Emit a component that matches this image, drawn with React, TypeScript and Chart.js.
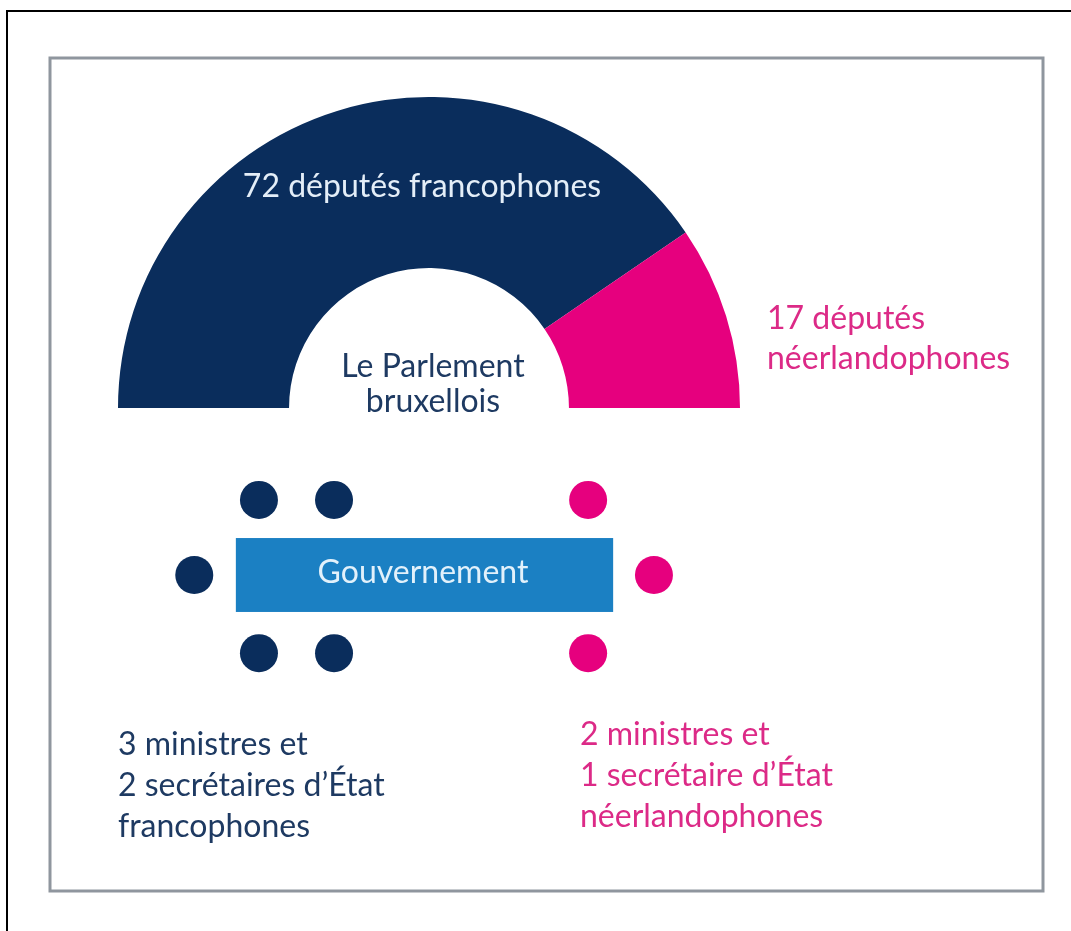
import React, { useEffect, useRef } from "react";
import { Chart, registerables } from "chart.js";

Chart.register(...registerables);

// ---- Data ----
const parliamentGroups = ["Députés francophones", "Députés néerlandophones"];
const parliamentSeats = [72, 17];
const groupColors = ["#0a2d5c", "#e6007e"];

// Government seats around the table (units = half a seat row spacing, table centred at 0,0)
const frenchSeatX = [-4.3, -2.35, -5.98, -4.3, -2.35];
const frenchSeatY = [1.95, 1.95, 0, -2.03, -2.03];
const dutchSeatX = [4.25, 5.96, 4.25];
const dutchSeatY = [1.95, 0, -2.03];
const tableX = [-4.9, 4.9];
const tableY = [-0.96, 0.96];

const parliamentTitle = ["72 députés francophones"];
const dutchMpsLabel = ["17 députés", "néerlandophones"];
const parliamentLabel = ["Le Parlement", "bruxellois"];
const governmentLabel = ["Gouvernement"];
const frenchGovLabel = ["3 ministres et", "2 secrétaires d’État", "francophones"];
const dutchGovLabel = ["2 ministres et", "1 secrétaire d’État", "néerlandophones"];

// ---- Layout ----
const W = 1071;
const H = 931;
const UNIT = 38.5;
const ORIGIN_X = 424.5;
const ORIGIN_Y = 575;
const FONT = "400 32px Lato, 'Open Sans', sans-serif";
const NAVY_TEXT = "#1e3a62";
const PINK_TEXT = "#dc2a87";

export default function App() {
  const donutRef = useRef<HTMLCanvasElement | null>(null);
  const overlayRef = useRef<HTMLCanvasElement | null>(null);

  useEffect(() => {
    const donut = new Chart(donutRef.current!, {
      type: "doughnut",
      data: {
        labels: parliamentGroups,
        datasets: [
          {
            data: parliamentSeats,
            backgroundColor: groupColors,
            borderWidth: 0,
          },
        ],
      },
      options: {
        animation: false,
        responsive: false,
        devicePixelRatio: 1,
        circumference: 180,
        rotation: -90,
        cutout: "45%",
        layout: { padding: 0 },
        plugins: { legend: { display: false }, tooltip: { enabled: false } },
      },
    });

    const decorations = {
      id: "decorations",
      beforeDatasetsDraw(chart: any) {
        const ctx = chart.ctx;
        const xs = chart.scales.x;
        const ys = chart.scales.y;
        ctx.save();
        // frame lines
        ctx.fillStyle = "#000";
        ctx.fillRect(6, 10, W - 6, 2);
        ctx.fillRect(6, 10, 2, H - 10);
        ctx.strokeStyle = "#8f969e";
        ctx.lineWidth = 3;
        ctx.strokeRect(50, 58, 993, 833);
        // government table
        const x0 = xs.getPixelForValue(tableX[0]);
        const x1 = xs.getPixelForValue(tableX[1]);
        const y0 = ys.getPixelForValue(tableY[1]);
        const y1 = ys.getPixelForValue(tableY[0]);
        ctx.fillStyle = "#1b80c3";
        ctx.fillRect(x0, y0, x1 - x0, y1 - y0);
        ctx.restore();
      },
      afterDatasetsDraw(chart: any) {
        const ctx = chart.ctx;
        ctx.save();
        ctx.font = FONT;
        ctx.textBaseline = "alphabetic";
        const draw = (lines: string[], x: number, y: number, step: number, color: string, align: CanvasTextAlign) => {
          ctx.fillStyle = color;
          ctx.textAlign = align;
          lines.forEach((l, i) => ctx.fillText(l, x, y + i * step));
        };
        draw(parliamentTitle, 422, 197, 0, "#e4eef8", "center");
        draw(parliamentLabel, 433, 377, 35, NAVY_TEXT, "center");
        draw(dutchMpsLabel, 767, 329, 40, PINK_TEXT, "left");
        draw(governmentLabel, 423, 583, 0, "#e2f1fb", "center");
        draw(frenchGovLabel, 118, 755, 41, NAVY_TEXT, "left");
        draw(dutchGovLabel, 580, 745, 41, PINK_TEXT, "left");
        ctx.restore();
      },
    };

    const overlay = new Chart(overlayRef.current!, {
      type: "scatter",
      data: {
        datasets: [
          {
            label: "Francophones",
            data: frenchSeatX.map((x, i) => ({ x, y: frenchSeatY[i] })),
            backgroundColor: groupColors[0],
            borderWidth: 0,
            pointRadius: 19,
          },
          {
            label: "Néerlandophones",
            data: dutchSeatX.map((x, i) => ({ x, y: dutchSeatY[i] })),
            backgroundColor: groupColors[1],
            borderWidth: 0,
            pointRadius: 19,
          },
        ],
      },
      options: {
        animation: false,
        responsive: false,
        devicePixelRatio: 1,
        layout: { padding: 0, autoPadding: false },
        scales: {
          x: { type: "linear", display: false, min: -ORIGIN_X / UNIT, max: (W - ORIGIN_X) / UNIT },
          y: { type: "linear", display: false, min: -(H - ORIGIN_Y) / UNIT, max: ORIGIN_Y / UNIT },
        },
        plugins: { legend: { display: false }, tooltip: { enabled: false } },
      },
      plugins: [decorations],
    });

    return () => {
      donut.destroy();
      overlay.destroy();
    };
  }, []);

  return (
    <div style={{ position: "absolute", left: 0, top: 0, width: W, height: H, background: "#fff", overflow: "hidden" }}>
      <canvas
        ref={donutRef}
        width={622}
        height={311}
        style={{ position: "absolute", left: 118, top: 97, width: 622, height: 311 }}
      />
      <canvas
        ref={overlayRef}
        width={W}
        height={H}
        style={{ position: "absolute", left: 0, top: 0, width: W, height: H, pointerEvents: "none" }}
      />
    </div>
  );
}
